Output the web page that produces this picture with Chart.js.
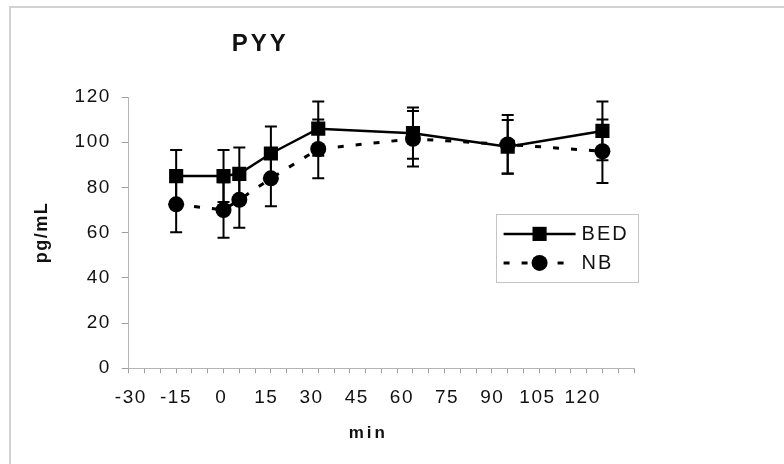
<!DOCTYPE html>
<html>
<head>
<meta charset="utf-8">
<script src="https://cdn.jsdelivr.net/npm/chart.js@4.4.0/dist/chart.umd.min.js"></script>
<style>
  html, body { margin: 0; padding: 0; background: #fff; }
  canvas { display: block; }
</style>
</head>
<body>
<canvas id="pyyChart" width="784" height="464"></canvas>
<script>
// PYY (pg/mL) ao longo do tempo - BED vs NB, media +/- EP
const tempos   = [-15, 0, 5, 15, 30, 60, 90, 120];
const bedMedia = [85, 85, 86, 95, 106, 104, 98, 105];
const bedErro  = [11.5, 11.5, 11.7, 12, 12, 11.3, 11.8, 13];
const nbMedia  = [72.5, 70, 74.5, 84, 97, 101.5, 99, 96];
const nbErro   = [12.3, 12.3, 12.4, 12.3, 13, 12.3, 13, 14];
const xRotulos = [-30, -15, 0, 15, 30, 45, 60, 75, 90, 105, 120];
const yRotulos = [0, 20, 40, 60, 80, 100, 120];

const FONTE = "'Liberation Sans', Arial, sans-serif";
const ESPACO = '1.5px';
const pontos = (ys) => tempos.map((t, i) => ({ x: t, y: ys[i] }));

// espacamento entre letras (o grafico original e "esticado")
const espacamento = {
  id: 'espacamento',
  beforeUpdate(chart) { chart.ctx.letterSpacing = ESPACO; },
  beforeDraw(chart) { chart.ctx.letterSpacing = ESPACO; }
};

// moldura cinza (so lados esquerdo e superior aparecem)
const moldura = {
  id: 'moldura',
  beforeDraw(chart) {
    const ctx = chart.ctx;
    ctx.save();
    ctx.strokeStyle = '#d2d2d2';
    ctx.lineWidth = 2;
    ctx.strokeRect(10, 7, 820, 520);
    ctx.restore();
  }
};

// barras de erro (EP)
const barrasErro = {
  id: 'barrasErro',
  beforeDatasetsDraw(chart) {
    const { ctx, scales: { x, y } } = chart;
    ctx.save();
    ctx.strokeStyle = '#000';
    ctx.lineWidth = 2;
    ctx.setLineDash([]);
    chart.data.datasets.forEach(ds => {
      ds.data.forEach((p, i) => {
        const px = x.getPixelForValue(p.x);
        const top = y.getPixelForValue(p.y + ds.erro[i]);
        const bot = y.getPixelForValue(p.y - ds.erro[i]);
        ctx.beginPath();
        ctx.moveTo(px, top); ctx.lineTo(px, bot);
        ctx.moveTo(px - 6, top); ctx.lineTo(px + 6, top);
        ctx.moveTo(px - 6, bot); ctx.lineTo(px + 6, bot);
        ctx.stroke();
      });
    });
    ctx.restore();
  }
};

// titulo, rotulo do eixo x e legenda
const textos = {
  id: 'textos',
  afterDraw(chart) {
    const { ctx, chartArea: a } = chart;
    const w = a.right - a.left, h = a.bottom - a.top;
    ctx.save();
    ctx.fillStyle = '#111';
    ctx.textAlign = 'center';
    ctx.textBaseline = 'middle';

    ctx.letterSpacing = '3px';
    ctx.font = `bold 24px ${FONTE}`;
    ctx.fillText('PYY', a.left + 0.257 * w + 1.5, 44);

    ctx.font = `bold 17px ${FONTE}`;
    ctx.fillText('min', a.left + 0.471 * w + 1.5, 433);

    // legenda
    const lx = a.left + 0.726 * w, ly = a.top + 0.431 * h;
    ctx.strokeStyle = '#c4c4c4';
    ctx.lineWidth = 1;
    ctx.strokeRect(Math.round(lx) + 0.5, Math.round(ly) + 0.5, 142, 68);

    ctx.textAlign = 'left';
    ctx.letterSpacing = '2px';
    ctx.font = `20px ${FONTE}`;
    chart.data.datasets.forEach((ds, i) => {
      const yy = ly + 20 + i * 29;
      ctx.strokeStyle = '#000';
      ctx.lineWidth = ds.borderWidth;
      ctx.setLineDash(ds.borderDash || []);
      ctx.beginPath();
      ctx.moveTo(lx + 8, yy); ctx.lineTo(lx + 80, yy);
      ctx.stroke();
      ctx.setLineDash([]);
      ctx.fillStyle = '#000';
      if (ds.pointStyle === 'rect') {
        const s = ds.pointRadius / Math.SQRT2;
        ctx.fillRect(lx + 44 - s, yy - s, 2 * s, 2 * s);
      } else {
        ctx.beginPath();
        ctx.arc(lx + 44, yy, ds.pointRadius, 0, Math.PI * 2);
        ctx.fill();
      }
      ctx.fillStyle = '#111';
      ctx.fillText(ds.label, lx + 86, yy + 1);
    });
    ctx.restore();
  }
};

new Chart(document.getElementById('pyyChart'), {
  type: 'line',
  data: {
    datasets: [
      {
        label: 'BED', data: pontos(bedMedia), erro: bedErro,
        borderColor: '#000', backgroundColor: '#000', borderWidth: 2.5,
        pointStyle: 'rect', pointRadius: 10, pointBorderWidth: 0,
        pointBackgroundColor: '#000', tension: 0, fill: false
      },
      {
        label: 'NB', data: pontos(nbMedia), erro: nbErro,
        borderColor: '#000', backgroundColor: '#000', borderWidth: 3, borderDash: [6, 12],
        pointStyle: 'circle', pointRadius: 8, pointBorderWidth: 0,
        pointBackgroundColor: '#000', tension: 0, fill: false
      }
    ]
  },
  options: {
    responsive: false,
    animation: false,
    devicePixelRatio: 1,
    layout: { padding: { left: 31, right: 150, top: 97, bottom: 50 } },
    plugins: {
      legend: { display: false },
      tooltip: { enabled: false },
      title: { display: false }
    },
    scales: {
      x: {
        type: 'linear', position: 'bottom', weight: 0, min: -30, max: 130,
        grid: { drawOnChartArea: false, tickLength: 5, tickColor: '#9e9e9e' },
        border: { color: '#b5b5b5', width: 1 },
        ticks: { display: false, stepSize: 5 }
      },
      xRot: {
        type: 'linear', position: 'bottom', weight: 1, min: -30.66, max: 137.05,
        grid: { display: false },
        border: { display: false },
        afterBuildTicks: s => { s.ticks = xRotulos.map(v => ({ value: v })); },
        ticks: {
          padding: 5, color: '#111', autoSkip: false, maxRotation: 0,
          font: { family: FONTE, size: 19 },
          callback: v => String(v)
        }
      },
      y: {
        min: 0, max: 120,
        afterBuildTicks: s => { s.ticks = yRotulos.map(v => ({ value: v })); },
        grid: { drawOnChartArea: false, tickLength: 7, tickColor: '#9e9e9e' },
        border: { color: '#b5b5b5', width: 1 },
        ticks: {
          padding: 11, color: '#111',
          font: { family: FONTE, size: 19 },
          callback: v => String(v)
        },
        title: {
          display: true, text: 'pg/mL', color: '#111',
          font: { family: FONTE, size: 18, weight: 'bold' },
          padding: { top: 0, bottom: 11 }
        }
      }
    }
  },
  plugins: [espacamento, moldura, barrasErro, textos]
});
</script>
</body>
</html>
